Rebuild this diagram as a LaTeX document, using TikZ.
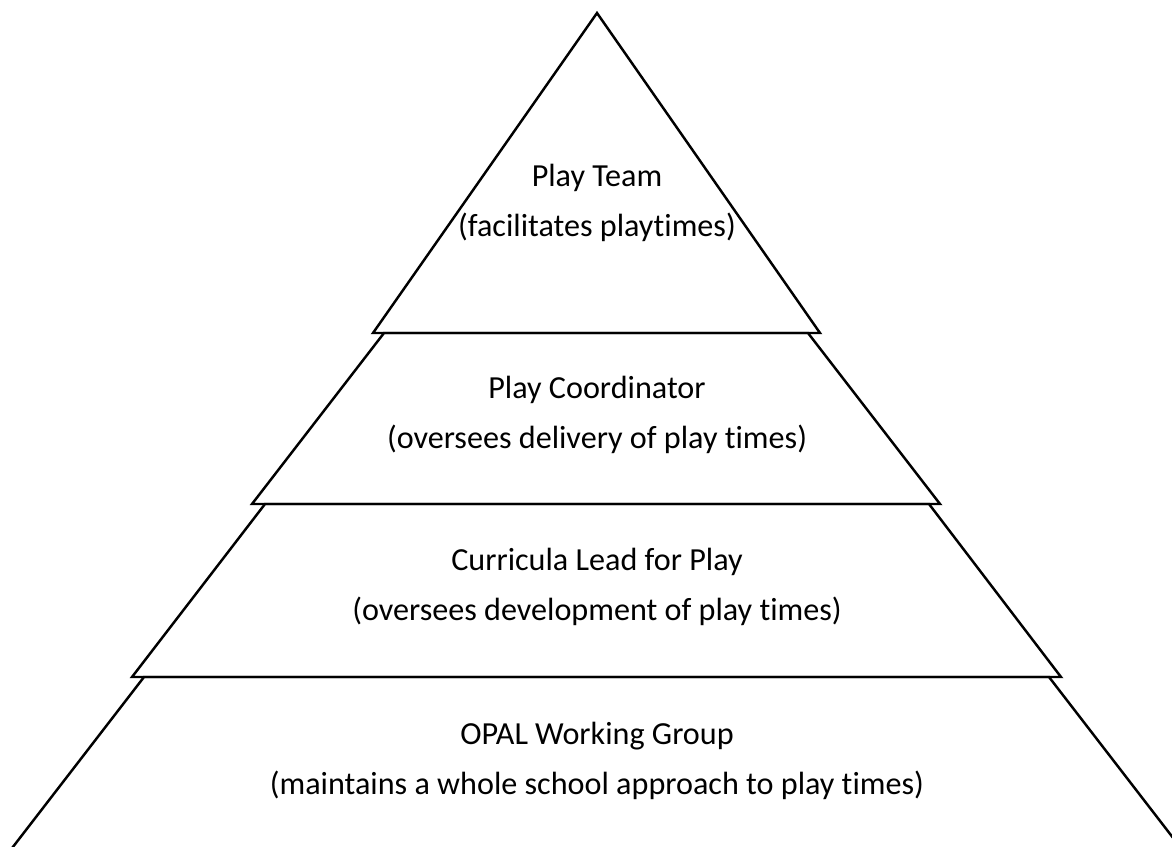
\documentclass[tikz,border=0pt]{standalone}
\usepackage{fontspec}
\setmainfont[Ligatures=NoCommon]{Carlito}
\usepackage{tikz}

\begin{document}
\begin{tikzpicture}[x=0.02cm, y=-0.02cm,
    lvl/.style={draw, line width=1.4pt, line join=miter},
    lbl/.style={align=center, font=\fontsize{18.3}{28.4}\selectfont}
  ]
  \useasboundingbox (0,0) rectangle (1172,846);
  \clip (0,0) rectangle (1172,846);

  % levels, top down
  \draw[lvl] (597,13) -- (820,333) -- (373,333) -- cycle;
  \draw[lvl] (384,333) -- (808,333) -- (940,504) -- (252,504) -- cycle;
  \draw[lvl] (265,504) -- (929,504) -- (1061,677) -- (132,677) -- cycle;
  \draw[lvl] (144,677) -- (1049,677) -- (1221,900) -- (-28,900) -- cycle;

  \node[lbl] (team)  at (597,203) {Play Team\\(facilitates playtimes)};
  \node[lbl] (coord) at (597,415) {Play Coordinator\\(oversees delivery of play times)};
  \node[lbl] (lead)  at (597,587) {Curricula Lead for Play\\(oversees development of play times)};
  \node[lbl] (opal)  at (597,761) {OPAL Working Group\\(maintains a whole school approach to play times)};
\end{tikzpicture}
\end{document}
